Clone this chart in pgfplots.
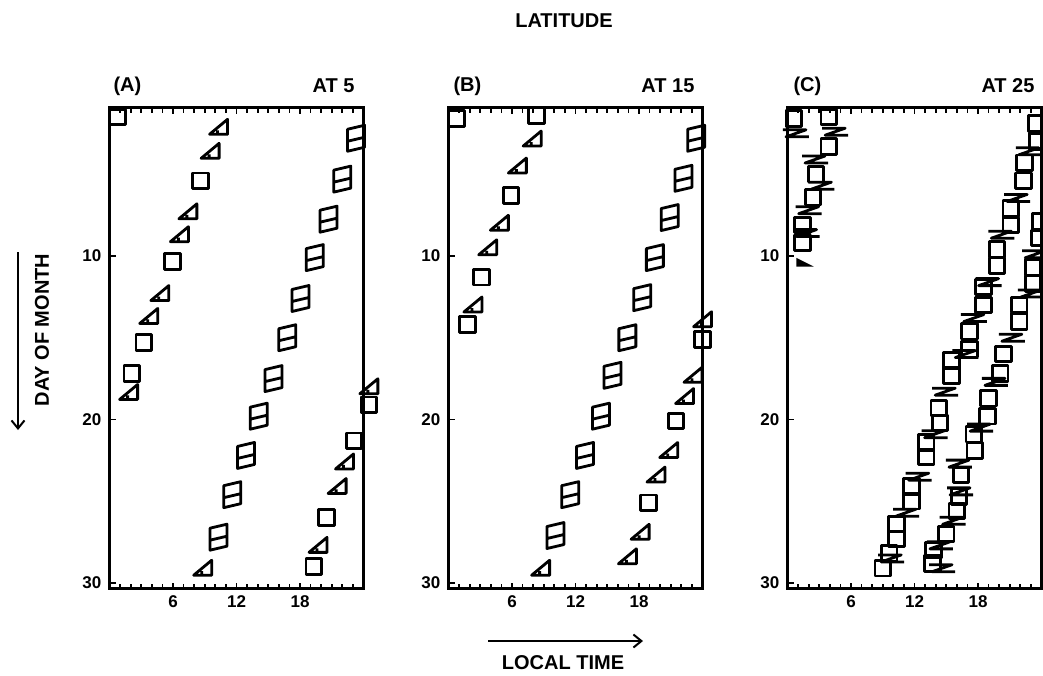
\documentclass[border=0pt]{standalone}
\usepackage{fontspec}
\setmainfont{Liberation Sans}
\usepackage{pgfplots}
\pgfplotsset{compat=1.18}
\usetikzlibrary{arrows.meta}

\pgfdeclareplotmark{para}{%
  \pgfpathmoveto{\pgfqpoint{-8.5pt}{-13pt}}%
  \pgfpathlineto{\pgfqpoint{8.5pt}{-9pt}}%
  \pgfpathlineto{\pgfqpoint{8.5pt}{13pt}}%
  \pgfpathlineto{\pgfqpoint{-8.5pt}{9pt}}%
  \pgfpathclose
  \pgfpathmoveto{\pgfqpoint{-8.5pt}{-3pt}}%
  \pgfpathlineto{\pgfqpoint{8.5pt}{1pt}}%
  \pgfusepathqstroke}
\pgfdeclareplotmark{rtri}{%
  \pgfpathmoveto{\pgfqpoint{-10pt}{-7pt}}%
  \pgfpathlineto{\pgfqpoint{8pt}{8pt}}%
  \pgfpathlineto{\pgfqpoint{8pt}{-7pt}}%
  \pgfpathclose
  \pgfpathmoveto{\pgfqpoint{-2pt}{-7pt}}%
  \pgfpathlineto{\pgfqpoint{-2pt}{-3pt}}%
  \pgfusepathqstroke}
\pgfdeclareplotmark{zz}{%
  \pgfpathmoveto{\pgfqpoint{-13pt}{3.5pt}}%
  \pgfpathlineto{\pgfqpoint{10pt}{3.5pt}}%
  \pgfpathlineto{\pgfqpoint{-10pt}{-3.5pt}}%
  \pgfpathlineto{\pgfqpoint{13pt}{-3.5pt}}%
  \pgfusepathqstroke}
\pgfdeclareplotmark{wedge}{%
  \pgfpathmoveto{\pgfqpoint{-6pt}{3pt}}%
  \pgfpathlineto{\pgfqpoint{6pt}{-3pt}}%
  \pgfpathlineto{\pgfqpoint{-6pt}{-3pt}}%
  \pgfpathclose
  \pgfusepathqfillstroke}

\newcommand\lab{\fontsize{20}{24}\selectfont\bfseries}

\pgfplotsset{
  panel/.style={
    scale only axis, width=254pt, height=481pt,
    xmin=0, xmax=24, ymin=0.92, ymax=30.34, y dir=reverse,
    axis line style={line width=2.8pt},
    xtick={6,12,18}, minor xtick={0,1,...,24}, ytick={10,20,30},
    xtick pos=both, ytick pos=left,
    tick align=inside,
    major tick length=6pt, minor tick length=5pt,
    every tick/.style={black, line width=1.8pt},
    tick label style={font=\fontsize{17}{17}\selectfont\bfseries},
    /pgf/number format/assume math mode=true,
    xticklabel style={inner sep=0pt, yshift=-7pt},
    yticklabel style={inner sep=0pt, xshift=-8pt},
    clip=false,
  },
  sq/.style={only marks, black, mark=square, mark size=7.8pt, mark options={line width=2.8pt, line join=round}},
  tr/.style={only marks, black, mark=rtri, mark options={line width=2.8pt, line join=round}},
  pa/.style={only marks, black, mark=para, mark options={line width=2.8pt, line join=round}},
  zg/.style={only marks, black, mark=zz, mark options={line width=2.8pt, line join=round}},
  wd/.style={only marks, black, mark=wedge, mark options={line width=2pt}},
}

\begin{document}
\begin{tikzpicture}
\useasboundingbox (0pt,0pt) rectangle (1043pt,-675pt);

% ---------- Panel A ----------
\begin{axis}[panel, at={(236.5pt,-348pt)}, anchor=center]
\addplot[sq] coordinates {(0.75,1.5) (8.6,5.4) (5.95,10.35) (3.25,15.3) (2.1,17.2)
  (24.5,19.1) (23.1,21.3) (20.5,26.0) (19.3,29.0)};
\addplot[tr] coordinates {(10.4,2.13) (9.6,3.6) (7.5,7.3) (6.7,8.7) (4.85,12.3) (3.8,13.7)
  (1.9,18.35) (24.6,18.0) (22.3,22.6) (21.6,24.1) (19.8,27.7) (8.9,29.1)};
\addplot[pa] coordinates {(23.3,2.8) (22.0,5.3) (20.7,7.75) (19.4,10.1) (18.05,12.6)
  (16.8,15.0) (15.5,17.5) (14.1,19.8) (12.9,22.2) (11.6,24.6) (10.3,27.2)};
\end{axis}

% ---------- Panel B ----------
\begin{axis}[panel, at={(575.5pt,-348pt)}, anchor=center]
\addplot[sq] coordinates {(0.75,1.6) (8.3,1.4) (5.9,6.3) (3.1,11.3) (1.8,14.2)
  (24.0,15.1) (21.5,20.1) (18.9,25.1)};
\addplot[tr] coordinates {(8.0,2.85) (6.6,4.5) (4.9,8.0) (3.8,9.5) (2.4,13.0)
  (24.1,13.9) (23.2,17.3) (22.4,18.6) (20.9,21.9) (19.7,23.4) (18.2,26.9) (17.0,28.4) (8.8,29.1)};
\addplot[pa] coordinates {(23.4,2.8) (22.2,5.25) (20.9,7.65) (19.5,10.1) (18.3,12.55)
  (16.9,15.0) (15.5,17.3) (14.4,19.8) (12.9,22.2) (11.5,24.6) (10.1,27.1)};
\end{axis}

% ---------- Panel C ----------
\begin{axis}[panel, at={(914.5pt,-348pt)}, anchor=center]
\addplot[sq] coordinates {(0.6,1.6) (3.9,1.5) (3.9,3.3) (2.7,5.0) (2.4,6.4) (1.4,8.1) (1.4,9.2)};
\addplot[zg] coordinates {(0.8,2.5) (4.5,2.4) (2.6,4.1) (3.2,5.7) (2.0,7.2) (1.8,8.6)};
\addplot[wd] coordinates {(1.5,10.4)};
% band 1
\addplot[sq] coordinates {(23.5,1.9) (23.6,3.0) (22.4,4.3) (22.3,5.4) (21.1,7.1) (21.1,8.1)
  (19.8,9.6) (19.8,10.6) (18.5,11.9) (18.5,13.0) (17.2,14.6) (17.2,15.7) (15.5,16.4) (15.5,17.3)
  (14.3,19.3) (14.4,20.2) (13.1,21.4) (13.1,22.3) (11.7,24.1) (11.7,25.0) (10.3,26.4) (10.3,27.3)
  (9.6,28.2) (9.0,29.1)};
\addplot[zg] coordinates {(22.8,3.6) (21.7,6.45) (20.2,8.7) (19.0,11.6) (17.6,13.8) (16.8,16.0)
  (14.9,18.3) (13.9,20.9) (12.4,23.5) (11.2,25.7) (9.8,28.5)};
% band 2
\addplot[sq] coordinates {(23.9,7.9) (23.8,8.9) (23.2,10.7) (23.2,11.7) (21.9,13.0) (21.9,14.0)
  (20.4,16.0) (20.1,17.2) (19.0,18.7) (18.9,19.8) (17.6,20.9) (17.7,21.9) (16.4,23.4) (16.2,24.7)
  (16.0,25.6) (15.0,27.0) (13.8,28.0) (13.7,28.8)};
\addplot[zg] coordinates {(23.4,9.9) (23.0,12.3) (21.2,15.0) (19.6,17.7) (18.2,20.5) (16.2,22.7)
  (16.3,24.4) (15.6,26.2) (14.4,27.7) (14.6,29.1)};
\end{axis}

% ---------- titles and annotations ----------
\node[font=\lab] at (564pt,-21pt) {LATITUDE};
\node[font=\lab, anchor=west] at (110pt,-86pt) {(A)};
\node[font=\lab, anchor=east] at (358pt,-86pt) {AT 5};
\node[font=\lab, anchor=west] at (450pt,-86pt) {(B)};
\node[font=\lab, anchor=east] at (698pt,-86pt) {AT 15};
\node[font=\lab, anchor=west] at (790pt,-86pt) {(C)};
\node[font=\lab, anchor=east] at (1038pt,-86pt) {AT 25};
\node[font=\lab, rotate=90] at (42pt,-330pt) {DAY OF MONTH};
\draw[line width=2pt, -{Straight Barb[length=8pt,width=13pt]}] (18pt,-252pt) -- (18pt,-430pt);
\draw[line width=2pt, -{Straight Barb[length=8pt,width=13pt]}] (488pt,-641pt) -- (643pt,-641pt);
\node[font=\lab, inner sep=1pt] at (563pt,-663pt) {LOCAL TIME};
\end{tikzpicture}
\end{document}
